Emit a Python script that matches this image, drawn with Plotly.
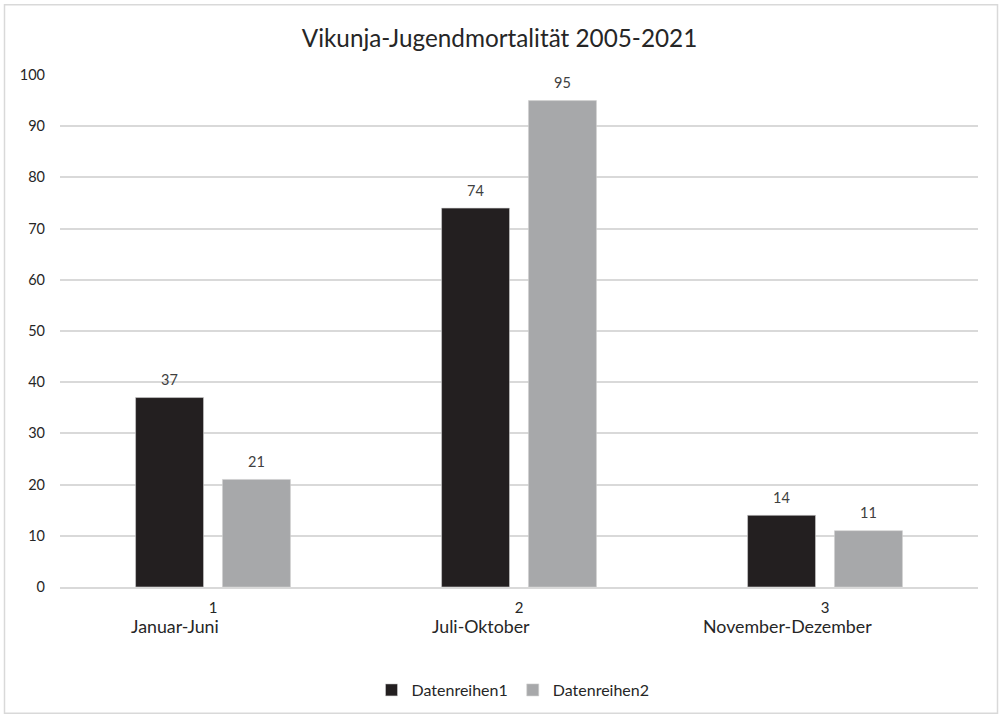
import plotly.graph_objects as go

# Chart data
categories = [1, 2, 3]
period_names = ["Januar-Juni", "Juli-Oktober", "November-Dezember"]
series1 = [37, 74, 14]
series2 = [21, 95, 11]
series_names = ["Datenreihen1", "Datenreihen2"]
series_colors = ["#231f20", "#a7a8aa"]
y_ticks = list(range(0, 101, 10))

W, H = 999, 718
ML, MR, MT, MB = 60, 21, 75, 130
BARGAP, BARGROUPGAP = 0.432, 0.218

font_family = "Lato, Open Sans, Liberation Sans, sans-serif"
label_color = "#404040"
dark_text = "#262626"

x_idx = list(range(len(categories)))
pw, ph = W - ML - MR, H - MT - MB

fig = go.Figure()
for name, vals, col in zip(series_names, [series1, series2], series_colors):
    fig.add_trace(go.Bar(
        x=x_idx, y=vals, name=name,
        marker=dict(color=col, line=dict(color="#d0d0d0", width=0.6)),
    ))

# Value labels above each bar (offset to the bar's position within its group)
slot_px = pw / len(categories) * (1 - BARGAP) / 2
for k, vals in enumerate([series1, series2]):
    shift = (k - 0.5) * slot_px
    for i, v in zip(x_idx, vals):
        fig.add_annotation(
            x=i, y=v, xref="x", yref="y", xshift=shift, yshift=18,
            text=str(v), showarrow=False, xanchor="center", yanchor="middle",
            font=dict(size=14.5, color=label_color, family=font_family),
        )

# Period names below the category numbers
for i, name in zip(x_idx, period_names):
    fig.add_annotation(
        x=i, xref="x", y=0, yref="paper", yshift=-39, xshift=-38,
        text=name, showarrow=False, xanchor="center", yanchor="middle",
        font=dict(size=17.8, color=dark_text, family=font_family),
    )

# Outer border around the chart area
def px_to_paper_x(px):
    return (px - ML) / pw
def px_to_paper_y(py):
    return (H - MB - py) / ph
fig.add_shape(
    type="rect", xref="paper", yref="paper",
    x0=px_to_paper_x(4.5), x1=px_to_paper_x(997.5),
    y0=px_to_paper_y(714.5), y1=px_to_paper_y(4.5),
    line=dict(color="#d9d9d9", width=1.5), fillcolor="rgba(0,0,0,0)", layer="below",
)

fig.update_layout(
    width=W, height=H,
    margin=dict(l=ML, r=MR, t=MT, b=MB),
    paper_bgcolor="white", plot_bgcolor="white",
    font=dict(family=font_family, color=label_color, size=14),
    title=dict(
        text="Vikunja-Jugendmortalität 2005-2021",
        x=0.5, xanchor="center", y=1 - 38 / H, yanchor="middle",
        font=dict(size=24.3, color=dark_text, family=font_family),
    ),
    barmode="group", bargap=BARGAP, bargroupgap=BARGROUPGAP,
    showlegend=True,
    legend=dict(
        orientation="h", x=px_to_paper_x(513), xanchor="center",
        y=px_to_paper_y(690), yanchor="middle",
        font=dict(size=16, color=dark_text, family=font_family),
        traceorder="normal",
    ),
    xaxis=dict(
        range=[-0.5, 2.5],
        tickmode="array", tickvals=x_idx, ticktext=[str(c) for c in categories],
        showgrid=False, showline=True, linecolor="#d9d9d9", linewidth=1.5,
        ticks="", tickfont=dict(size=15, color=dark_text, family=font_family),
        ticklabelstandoff=6, zeroline=False,
    ),
    yaxis=dict(
        range=[0, 100], tickmode="array", tickvals=y_ticks,
        showgrid=True, gridcolor="#d9d9d9", gridwidth=1.5,
        zeroline=False, showline=False, ticks="",
        tickfont=dict(size=14.5, color=dark_text, family=font_family),
        ticklabelstandoff=14,
    ),
)

fig.write_html("out.html")
